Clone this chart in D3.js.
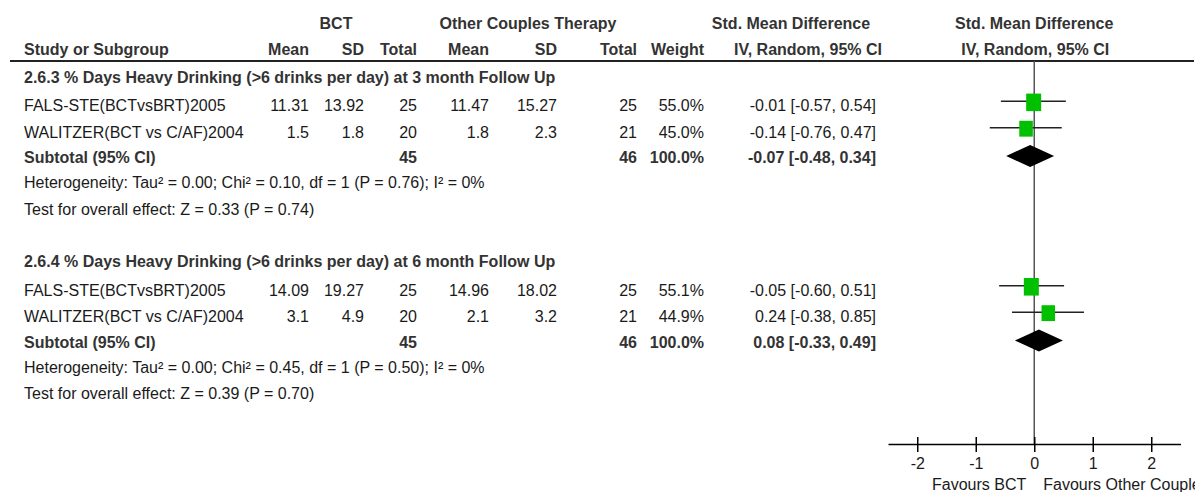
<!DOCTYPE html>
<html>
<head>
<meta charset="utf-8">
<script src="https://cdn.jsdelivr.net/npm/d3@7"></script>
<style>
  html, body { margin: 0; padding: 0; background: #fff; }
  svg { display: block; }
  text { font-family: "Liberation Sans", Arial, sans-serif; font-size: 16px; fill: #1a1a1a; }
  .b { font-weight: bold; fill: #333; }
</style>
</head>
<body>
<svg id="chart" width="1195" height="492"></svg>
<script>
// Forest plot: BCT vs other couples therapy, % days heavy drinking
const subgroupTitles = [
  "2.6.3 % Days Heavy Drinking (>6 drinks per day) at 3 month Follow Up",
  "2.6.4 % Days Heavy Drinking (>6 drinks per day) at 6 month Follow Up"
];
const studyNames = [
  ["FALS-STE(BCTvsBRT)2005", "WALITZER(BCT vs C/AF)2004"],
  ["FALS-STE(BCTvsBRT)2005", "WALITZER(BCT vs C/AF)2004"]
];
const bctMean   = [["11.31", "1.5"], ["14.09", "3.1"]];
const bctSD     = [["13.92", "1.8"], ["19.27", "4.9"]];
const bctTotal  = [[25, 20], [25, 20]];
const otherMean = [["11.47", "1.8"], ["14.96", "2.1"]];
const otherSD   = [["15.27", "2.3"], ["18.02", "3.2"]];
const otherTotal = [[25, 21], [25, 21]];
const weights   = [[55.0, 45.0], [55.1, 44.9]];
const smd       = [[-0.01, -0.14], [-0.05, 0.24]];
const ciLow     = [[-0.57, -0.76], [-0.60, -0.38]];
const ciHigh    = [[0.54, 0.47], [0.51, 0.85]];

const subBctTotal   = [45, 45];
const subOtherTotal = [46, 46];
const subWeight     = [100.0, 100.0];
const subSmd        = [-0.07, 0.08];
const subLow        = [-0.48, -0.33];
const subHigh       = [0.34, 0.49];

const heterogeneity = [
  "Heterogeneity: Tau² = 0.00; Chi² = 0.10, df = 1 (P = 0.76); I² = 0%",
  "Heterogeneity: Tau² = 0.00; Chi² = 0.45, df = 1 (P = 0.50); I² = 0%"
];
const overallEffect = [
  "Test for overall effect: Z = 0.33 (P = 0.74)",
  "Test for overall effect: Z = 0.39 (P = 0.70)"
];

const axisTicks = [-2, -1, 0, 1, 2];
const favoursLeft = "Favours BCT";
const favoursRight = "Favours Other Couples Therapy";

// ---- layout ----
const svg = d3.select("#chart");
const col = { name: 24, bctMean: 309, bctSD: 364, bctN: 417, othMean: 489, othSD: 557,
              othN: 637, weight: 704, ci: 876 };
const x = d3.scaleLinear().domain([-2.5, 2.5]).range([888, 1180.5]);
const rowY = d3.scaleLinear().domain([0, 14]).range([75, 443.9]);
const textDy = 10;
const headerLineY = 61;
const axisY = rowY(14);
const boxW = d3.scaleSqrt().domain([0, 100]).range([0, 20.2]);

function txt(xp, yp, s, anchor, bold) {
  return svg.append("text").attr("x", xp).attr("y", yp).attr("text-anchor", anchor || "start")
    .attr("class", bold ? "b" : null).text(s);
}

// header rows
txt(336, 29, "BCT", "middle", true);
txt(528, 29, "Other Couples Therapy", "middle", true);
txt(791, 29, "Std. Mean Difference", "middle", true);
txt(x(0), 29, "Std. Mean Difference", "middle", true);

const hy = 55;
txt(col.name, hy, "Study or Subgroup", "start", true);
txt(col.bctMean, hy, "Mean", "end", true);
txt(col.bctSD, hy, "SD", "end", true);
txt(col.bctN, hy, "Total", "end", true);
txt(col.othMean, hy, "Mean", "end", true);
txt(col.othSD, hy, "SD", "end", true);
txt(col.othN, hy, "Total", "end", true);
txt(col.weight, hy, "Weight", "end", true);
txt(808, hy, "IV, Random, 95% CI", "middle", true);
txt(x(0) + 1, hy, "IV, Random, 95% CI", "middle", true);

svg.append("line").attr("x1", 10).attr("x2", 1194).attr("y1", headerLineY).attr("y2", headerLineY)
  .attr("stroke", "#222").attr("stroke-width", 2);

// zero line
svg.append("line").attr("x1", x(0)).attr("x2", x(0)).attr("y1", headerLineY).attr("y2", axisY)
  .attr("stroke", "#555").attr("stroke-width", 1.5);

const f2 = v => v.toFixed(2);
const ciText = (m, l, h) => `${f2(m)} [${f2(l)}, ${f2(h)}]`;

subgroupTitles.forEach((title, g) => {
  const base = g * 7;
  txt(col.name, rowY(base) + textDy - 2, title, "start", true);

  studyNames[g].forEach((name, i) => {
    const y = rowY(base + 1 + i);
    const ty = y + textDy;
    txt(col.name, ty, name);
    txt(col.bctMean, ty, bctMean[g][i], "end");
    txt(col.bctSD, ty, bctSD[g][i], "end");
    txt(col.bctN, ty, bctTotal[g][i], "end");
    txt(col.othMean, ty, otherMean[g][i], "end");
    txt(col.othSD, ty, otherSD[g][i], "end");
    txt(col.othN, ty, otherTotal[g][i], "end");
    txt(col.weight, ty, weights[g][i].toFixed(1) + "%", "end");
    txt(col.ci, ty, ciText(smd[g][i], ciLow[g][i], ciHigh[g][i]), "end");

    svg.append("line").attr("x1", x(ciLow[g][i])).attr("x2", x(ciHigh[g][i]))
      .attr("y1", y).attr("y2", y).attr("stroke", "#222").attr("stroke-width", 1.5);
    const w = boxW(weights[g][i]), h = w * 1.17;
    svg.append("rect").attr("x", x(smd[g][i]) - w / 2).attr("y", y - h / 2 + 1)
      .attr("width", w).attr("height", h).attr("fill", "#00c000");
  });

  const sy = rowY(base + 3);
  const sty = sy + textDy - 1;
  txt(col.name, sty, "Subtotal (95% CI)", "start", true);
  txt(col.bctN, sty, subBctTotal[g], "end", true);
  txt(col.othN, sty, subOtherTotal[g], "end", true);
  txt(col.weight, sty, subWeight[g].toFixed(1) + "%", "end", true);
  txt(col.ci, sty, ciText(subSmd[g], subLow[g], subHigh[g]), "end", true);
  const dh = 11;
  svg.append("path")
    .attr("d", `M${x(subLow[g])},${sy + 2} L${x(subSmd[g])},${sy + 2 - dh} L${x(subHigh[g])},${sy + 2} L${x(subSmd[g])},${sy + 2 + dh} Z`)
    .attr("fill", "#000");

  txt(col.name, rowY(base + 4) + textDy - 2, heterogeneity[g]);
  txt(col.name, rowY(base + 5) + textDy - 2, overallEffect[g]);
});

// axis
const axis = d3.axisBottom(x).tickValues(axisTicks).tickFormat(d => String(d)).tickSizeOuter(0);
const ag = svg.append("g").attr("transform", `translate(0,${axisY})`).call(axis);
ag.select(".domain").attr("stroke", "#000").attr("stroke-width", 1.5);
ag.selectAll(".tick line").attr("y1", -7).attr("y2", 8).attr("stroke", "#000").attr("stroke-width", 1.5);
ag.selectAll(".tick text").attr("y", 25).attr("dy", 0)
  .style("font-family", '"Liberation Sans", Arial, sans-serif').style("font-size", "16px").attr("fill", "#1a1a1a");

txt(x(0) - 8, 490, favoursLeft, "end");
txt(x(0) + 9, 490, favoursRight, "start");
</script>
</body>
</html>
